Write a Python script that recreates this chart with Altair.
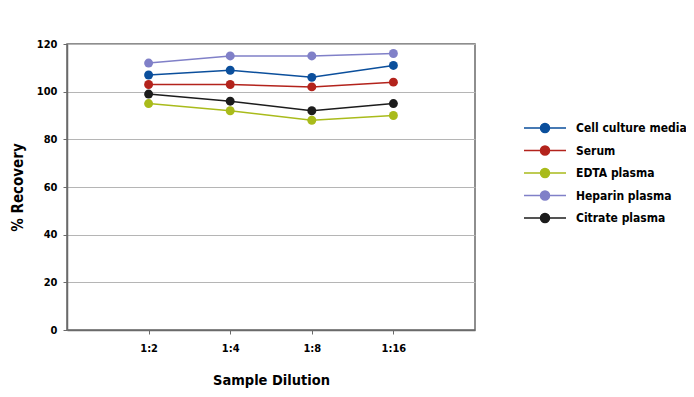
import altair as alt
import pandas as pd

dilutions = ["1:2", "1:4", "1:8", "1:16"]
series = ["Cell culture media", "Serum", "EDTA plasma", "Heparin plasma", "Citrate plasma"]
cell_culture = [107, 109, 106, 111]
serum = [103, 103, 102, 104]
edta = [95, 92, 88, 90]
heparin = [112, 115, 115, 116]
citrate = [99, 96, 92, 95]
colors = ["#0b4f9c", "#b3231c", "#a9bb1b", "#8080c8", "#1c1c1c"]

values = [cell_culture, serum, edta, heparin, citrate]
rows = []
for name, vals in zip(series, values):
    for d, v in zip(dilutions, vals):
        rows.append({"Series": name, "Dilution": d, "Recovery": v})
df = pd.DataFrame(rows)

FONT = "DejaVu Sans Condensed"

sym_path = "M-4.2,0H4.2M-0.9,0A0.9,0.9,0,1,1,0.9,0A0.9,0.9,0,1,1,-0.9,0Z"

chart = alt.Chart(df).mark_line(
    strokeWidth=1.5,
    point=alt.OverlayMarkDef(filled=True, size=80, opacity=1),
).encode(
    x=alt.X("Dilution:N", sort=dilutions,
            scale=alt.Scale(type="point", padding=1),
            axis=alt.Axis(title="Sample Dilution", labelAngle=0, grid=False,
                          tickSize=4, labelPadding=8, titlePadding=20,
                          titleFontSize=14.5)),
    y=alt.Y("Recovery:Q", scale=alt.Scale(domain=[0, 120]),
            axis=alt.Axis(title="% Recovery", values=[0, 20, 40, 60, 80, 100, 120],
                          tickSize=4, labelPadding=6, titlePadding=11)),
    color=alt.Color("Series:N", sort=series,
                    scale=alt.Scale(domain=series, range=colors),
                    legend=alt.Legend(
                        title=None, orient="none", legendX=456, legendY=78,
                        symbolType=sym_path, symbolSize=100, symbolStrokeWidth=1.5,
                        symbolOffset=16, labelOffset=25, rowPadding=6.5, padding=0,
                        labelFont=FONT, labelFontSize=12, labelFontWeight="bold",
                        labelColor="#000000", labelLimit=200,
                    )),
).properties(
    width=408, height=286,
    autosize=alt.AutoSizeParams(type="none"),
    padding={"left": 59, "top": 36, "right": 211, "bottom": 59},
).configure_view(
    stroke="#6a6a6a", strokeWidth=1.5,
).configure_axis(
    labelFont=FONT, labelFontSize=11, labelFontWeight="bold", labelColor="#000000",
    titleFont=FONT, titleFontSize=15, titleFontWeight="bold", titleColor="#000000",
    domainColor="#6a6a6a", domainWidth=1.5, tickColor="#6a6a6a",
    gridColor="#b5b5b5", gridWidth=1,
)

chart.save("out.html", embed_options={"renderer": "svg", "actions": False})
